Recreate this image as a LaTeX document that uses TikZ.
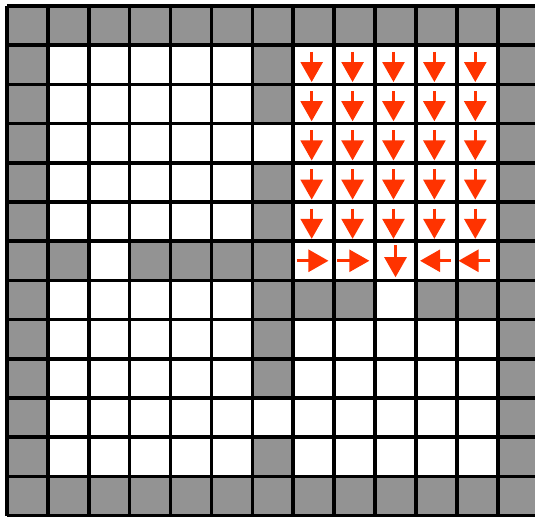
\documentclass[tikz,border=0pt]{standalone}
\usetikzlibrary{arrows.meta}
\definecolor{WallGray}{HTML}{939393}
\definecolor{FlowRed}{HTML}{FF3300}

\begin{document}
\begin{tikzpicture}[x=20.45pt,y=-19.6pt,
    wall/.style={fill=WallGray},
    flow/.style={FlowRed,line width=1.3pt,-{Triangle[width=11pt,length=10pt]}}]
  \useasboundingbox (-0.171,-0.153) rectangle (12.910,13.087);
  \fill[white] (-0.171,-0.153) rectangle (12.910,13.087);

  \foreach \k in {0,...,12} {
    \fill[wall] (\k,0) rectangle ++(1,1);
    \fill[wall] (\k,12) rectangle ++(1,1);
    \fill[wall] (0,\k) rectangle ++(1,1);
    \fill[wall] (12,\k) rectangle ++(1,1);
  }
  \foreach \c/\r in {6/1,6/2,6/4,6/5,6/6,6/7,6/8,6/9,6/11,
                     1/6,3/6,4/6,5/6,7/7,8/7,10/7,11/7}
    \fill[wall] (\c,\r) rectangle ++(1,1);

  \foreach \k in {0,...,13} {
    \draw[line width=1.8pt] (\k,0) -- (\k,13);
    \draw[line width=1.8pt] (0,\k) -- (13,\k);
  }

  \foreach \c in {7,...,11}
    \foreach \r in {1,...,5}
      \draw[flow] (\c+0.45,\r+0.17) -- (\c+0.45,\r+0.94);
  \foreach \c/\a/\b in {7/0.08/0.86,8/0.08/0.86,10/0.86/0.1,11/0.82/0.04}
    \draw[flow] (\c+\a,6.5) -- (\c+\b,6.5);
  \draw[flow] (9.5,6.1) -- (9.5,6.92);
\end{tikzpicture}
\end{document}
